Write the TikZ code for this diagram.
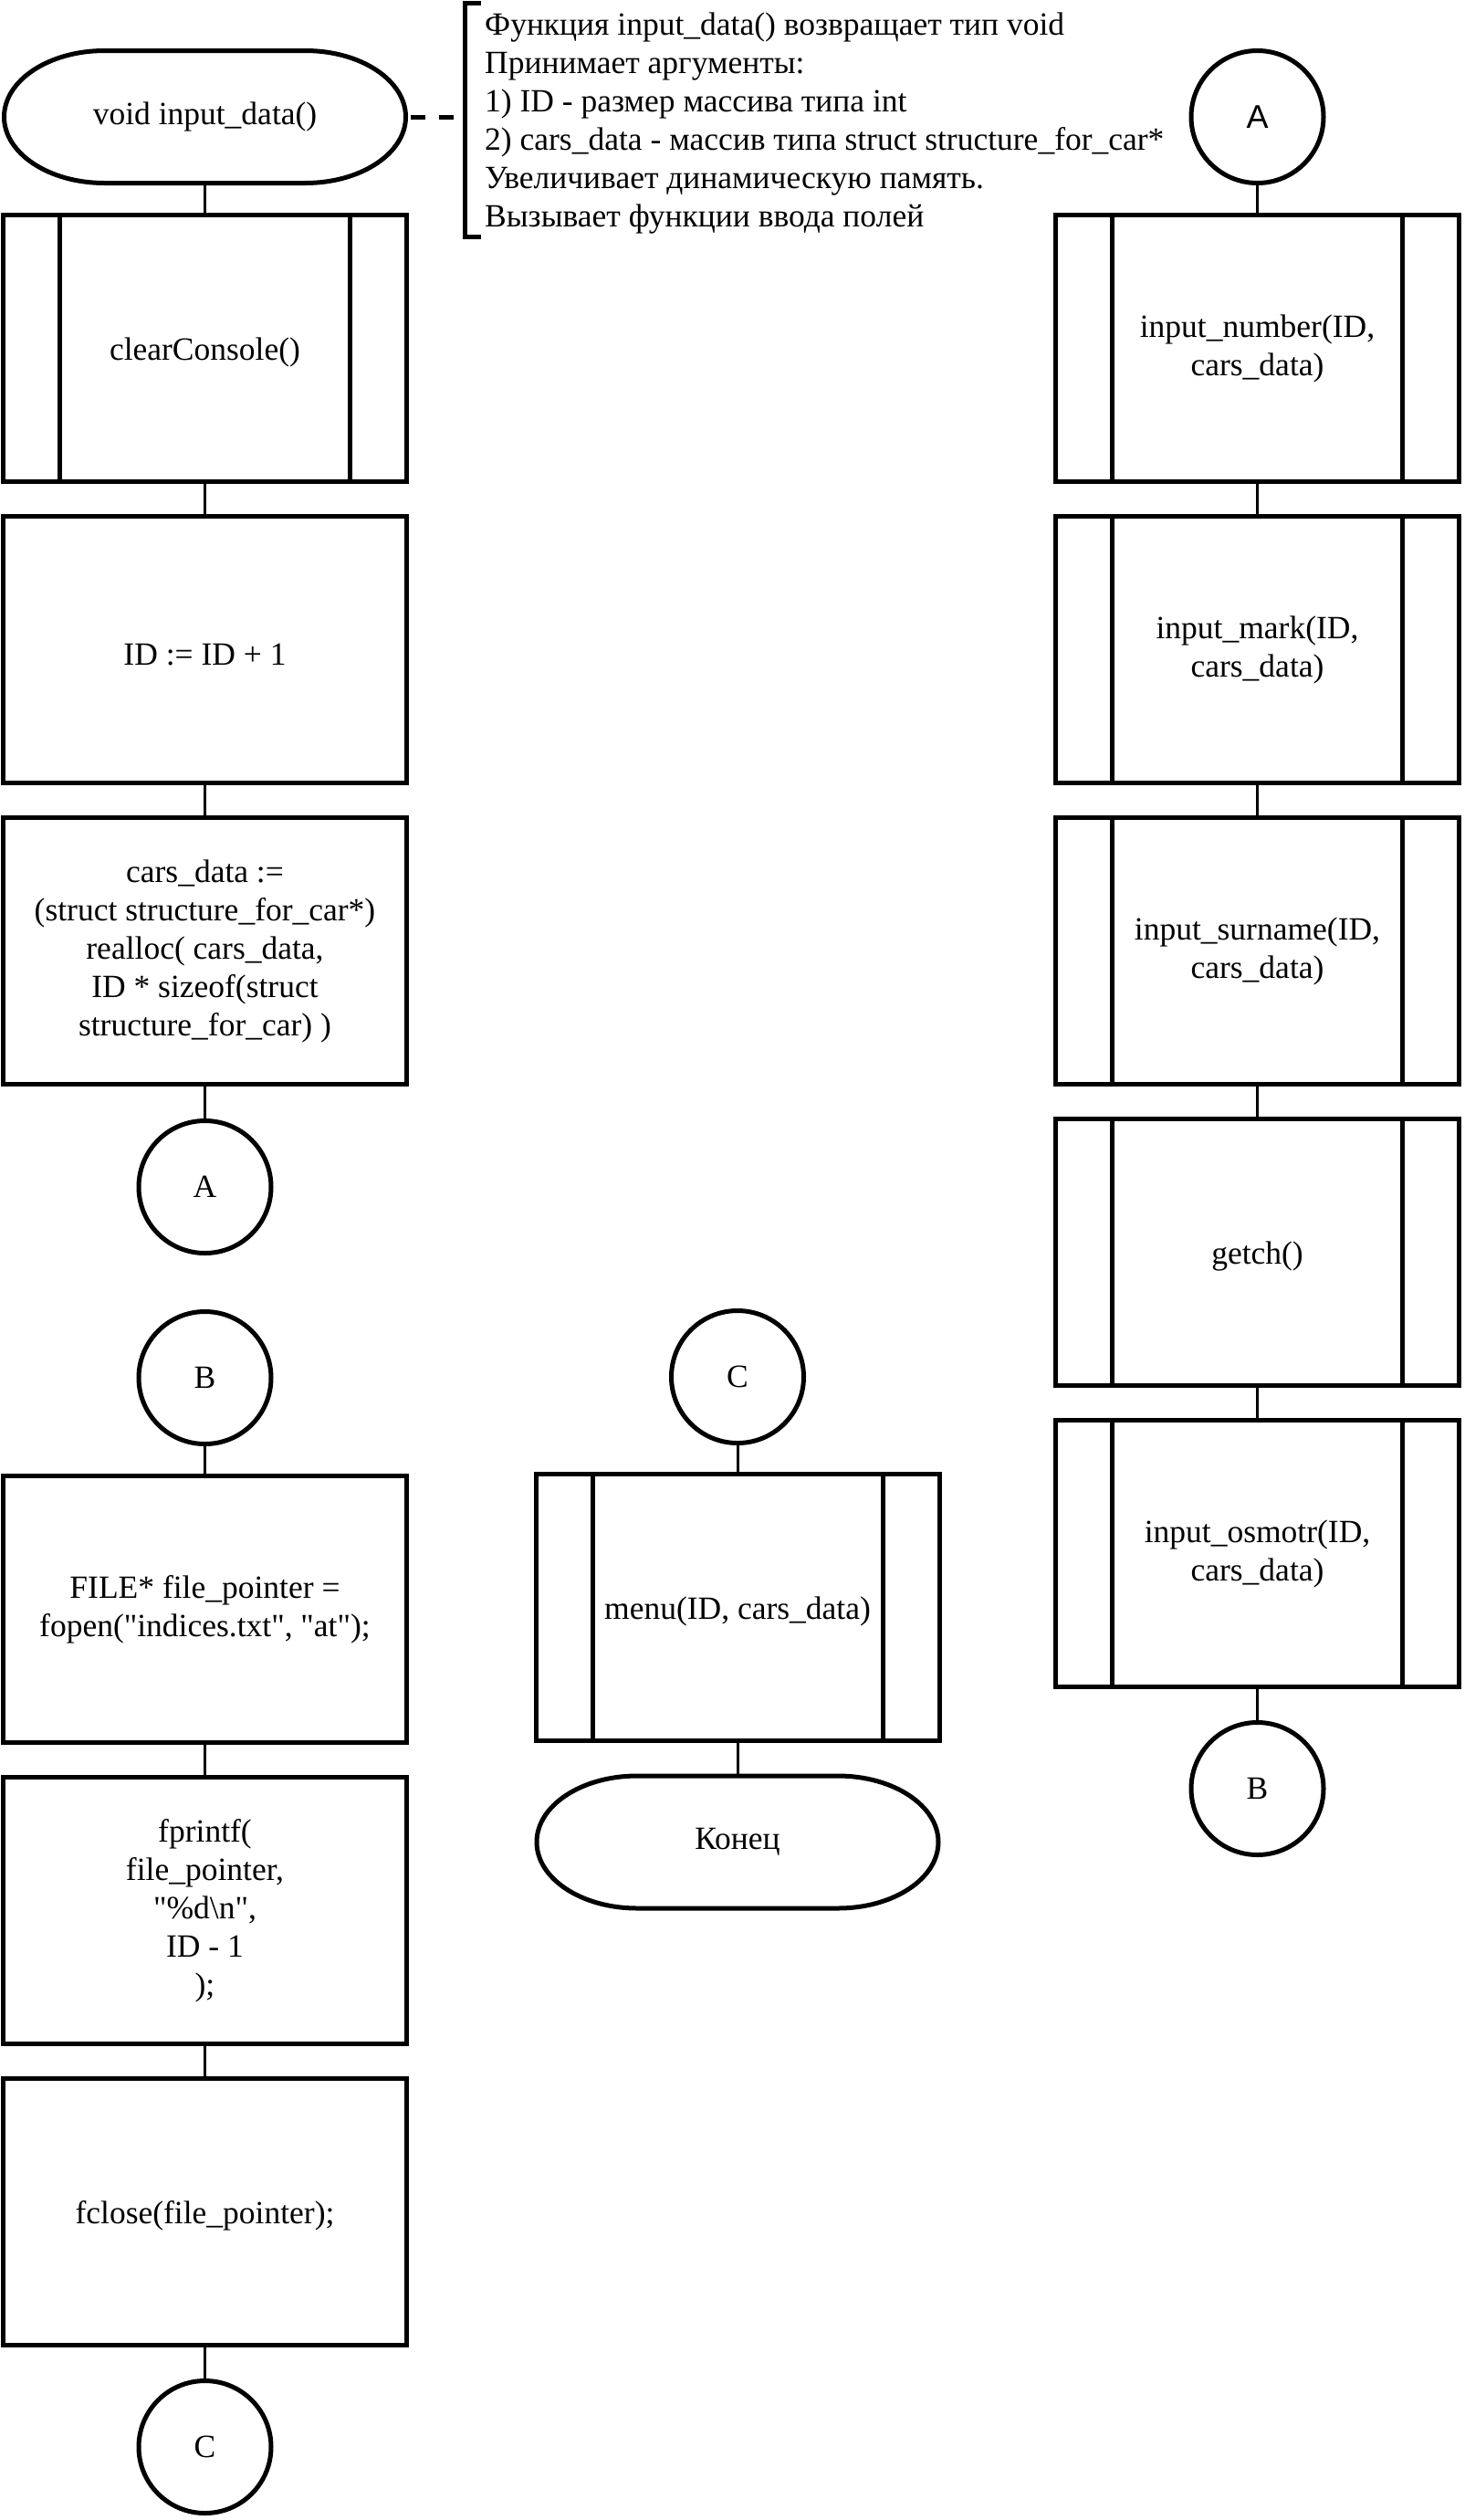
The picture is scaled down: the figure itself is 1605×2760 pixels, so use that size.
\documentclass[tikz,border=0pt]{standalone}
\usepackage{fontspec}
\setmainfont{Liberation Serif}[Ligatures=TeXOff]
\newfontfamily\sansA{Liberation Sans}
\newcommand\fsz{\fontsize{35.5}{42}\selectfont}
\newcommand\termoutline[1]{%
  \draw[bord] ([xshift=110pt]#1.north west) -- ([xshift=-110pt]#1.north east)
    arc[start angle=90, end angle=-90, x radius=110pt, y radius=72.5pt]
    -- ([xshift=110pt]#1.south west)
    arc[start angle=270, end angle=90, x radius=110pt, y radius=72.5pt] -- cycle;}
\tikzset{
  bord/.style={line width=5pt, draw=black},
  conn/.style={line width=3pt, draw=black},
  box/.style={bord, rectangle, minimum width=442pt, minimum height=292pt,
    inner sep=0pt, align=center, font=\fsz,
    execute at begin node={\rule{0pt}{34pt}}},
  predef/.style={box, path picture={
    \draw[line width=5pt]
      ([xshift=62pt]path picture bounding box.north west) -- ([xshift=62pt]path picture bounding box.south west)
      ([xshift=-62pt]path picture bounding box.north east) -- ([xshift=-62pt]path picture bounding box.south east);}},
  conncirc/.style={bord, circle, minimum size=145pt, inner sep=0pt, font=\fsz},
  term/.style={rectangle, minimum width=440pt, minimum height=145pt,
    inner sep=0pt, outer sep=0pt, font=\fsz},
}
\begin{document}
\begin{tikzpicture}[x=1pt,y=-1pt]
\useasboundingbox[fill=white] (0,0) rectangle (1605,2760);

% left column
\node[term] (start) at (224.5,128) {void input\_data()};
\node[predef] (clr) at (224.5,381.5) {clearConsole()};
\node[box] (inc) at (224.5,711.5) {ID := ID + 1};
\node[box] (realloc) at (224.5,1041.5) {cars\_data :=\\(struct structure\_for\_car*)\\realloc( cars\_data,\\ID * sizeof(struct\\structure\_for\_car) )};
\node[conncirc] (a1) at (224.5,1300) {A};
\node[conncirc] (b2) at (224.5,1509) {B};
\node[box] (fopen) at (224.5,1762.5) {FILE* file\_pointer =\\fopen("indices.txt", "at");};
\node[box] (fprintf) at (224.5,2092.5) {fprintf(\\file\_pointer,\\"\%d\textbackslash n",\\ID - 1\\);};
\node[box] (fclose) at (224.5,2422.5) {fclose(file\_pointer);};
\node[conncirc] (c1) at (224.5,2680) {C};

% middle column
\node[conncirc] (c2) at (808,1508) {C};
\node[predef] (menu) at (808,1760) {menu(ID, cars\_data)};
\node[term] (fin) at (808,2017.5) {Конец};

% right column
\node[conncirc, font=\sansA\fontsize{36}{40}\selectfont] (a2) at (1377.5,128) {A};
\node[predef] (num) at (1377.5,381.5) {input\_number(ID,\\cars\_data)};
\node[predef] (mark) at (1377.5,711.5) {input\_mark(ID,\\cars\_data)};
\node[predef] (surn) at (1377.5,1041.5) {input\_surname(ID,\\cars\_data)};
\node[predef] (getch) at (1377.5,1371.5) {getch()};
\node[predef] (osm) at (1377.5,1701.5) {input\_osmotr(ID,\\cars\_data)};
\node[conncirc] (b1) at (1377.5,1959) {B};

% terminator outlines
\termoutline{start}
\termoutline{fin}

% comment
\node[anchor=base west, inner sep=0pt, font=\fsz] (comment) at (531,38)
  {\begin{tabular}[t]{@{}l@{}}
   Функция input\_data() возвращает тип void\\
   Принимает аргументы:\\
   1) ID - размер массива типа int\\
   2) cars\_data - массив типа struct structure\_for\_car*\\
   Увеличивает динамическую память.\\
   Вызывает функции ввода полей
   \end{tabular}};
\coordinate (brk) at (509,128);
\draw[bord] (527,3) -- (509,3) -- (509,259) -- (527,259);
\draw[bord, dash pattern=on 16pt off 15pt] ([xshift=5.5pt]start.east) -- (brk);

% connectors
\draw[conn] (start.south) -- (clr.north);
\draw[conn] (clr.south) -- (inc.north);
\draw[conn] (inc.south) -- (realloc.north);
\draw[conn] (realloc.south) -- (a1.north);
\draw[conn] (b2.south) -- (fopen.north);
\draw[conn] (fopen.south) -- (fprintf.north);
\draw[conn] (fprintf.south) -- (fclose.north);
\draw[conn] (fclose.south) -- (c1.north);
\draw[conn] (c2.south) -- (menu.north);
\draw[conn] (menu.south) -- (fin.north);
\draw[conn] (a2.south) -- (num.north);
\draw[conn] (num.south) -- (mark.north);
\draw[conn] (mark.south) -- (surn.north);
\draw[conn] (surn.south) -- (getch.north);
\draw[conn] (getch.south) -- (osm.north);
\draw[conn] (osm.south) -- (b1.north);
\end{tikzpicture}
\end{document}
